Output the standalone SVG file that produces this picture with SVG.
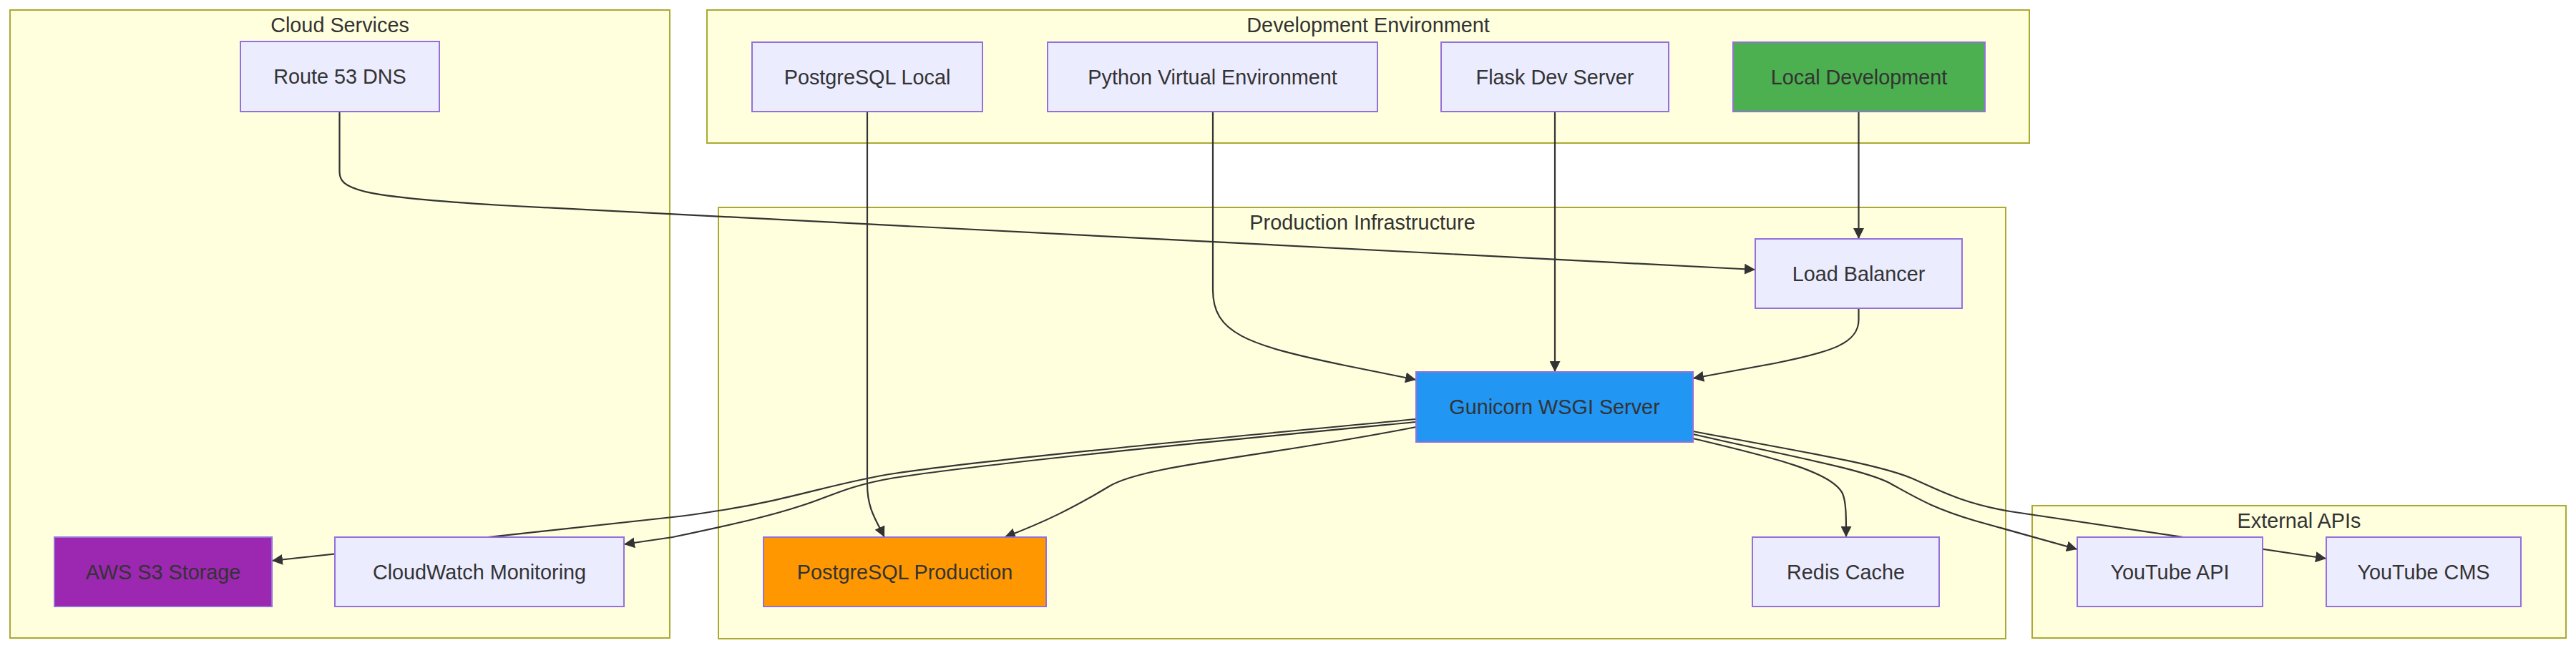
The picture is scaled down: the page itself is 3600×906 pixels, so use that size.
<svg xmlns="http://www.w3.org/2000/svg" width="3600" height="906" viewBox="0 0 3600 906">
<style>
.cluster{fill:#ffffde;stroke:#aaaa33;stroke-width:2}
.ctitle{font-family:"Liberation Sans",sans-serif;font-size:28.8px;fill:#333;text-anchor:middle}
.node rect{fill:#ECECFF;stroke:#9370DB;stroke-width:2}
.node text{font-family:"Liberation Sans",sans-serif;font-size:28.8px;fill:#333;text-anchor:middle}
.edge{fill:none;stroke:#333;stroke-width:2.2;marker-end:url(#arrow)}
</style>
<defs>
<marker id="arrow" viewBox="0 0 15 15" refX="15" refY="7.5" markerWidth="15" markerHeight="15" markerUnits="userSpaceOnUse" orient="auto">
<path d="M0,0 L15,7.5 L0,15 z" fill="#333"/>
</marker>
</defs>
<rect width="3600" height="906" fill="#ffffff"/>
<g id="clusters">
<g id="cloud-services"><rect class="cluster" x="14" y="14" width="922" height="878"/><text class="ctitle" x="475" y="45">Cloud Services</text></g>
<g id="development-environment"><rect class="cluster" x="988" y="14" width="1848" height="186"/><text class="ctitle" x="1912" y="45">Development Environment</text></g>
<g id="production-infrastructure"><rect class="cluster" x="1004" y="290" width="1799" height="603"/><text class="ctitle" x="1904" y="321">Production Infrastructure</text></g>
<g id="external-apis"><rect class="cluster" x="2840" y="707" width="746" height="185"/><text class="ctitle" x="3213" y="738">External APIs</text></g>
</g>
<g id="connectors">
<path class="edge" d="M474.5,156 L474.5,240 C474.5,265 500,275 700,287 L2453,377"/>
<path class="edge" d="M1212,156 L1212,677 C1212,712 1225,728 1236,751"/>
<path class="edge" d="M1695,156 L1695,405 C1695,465 1740,482 1880,511 L1979,531"/>
<path class="edge" d="M2173,156 L2173,520"/>
<path class="edge" d="M2597.5,156 L2597.5,334"/>
<path class="edge" d="M2597.5,431 L2597.5,447 C2597.5,480 2560,492 2480,508 L2366,529"/>
<path class="edge" d="M1979,597 C1760,640 1600,650 1550,680 S1460,730 1404,751"/>
<path class="edge" d="M1979,586 C1750,608 1400,640 1250,662 C1170,674 1100,700 1004,714 C980,718 960,721 940,723 L380,784"/>
<path class="edge" d="M1979,590 C1750,612 1400,645 1250,668 C1180,680 1160,695 1120,707 C1080,720 1040,730 940,751 L872,761"/>
<path class="edge" d="M2366,613 C2480,640 2560,660 2575,690 C2580,702 2580,720 2580,751"/>
<path class="edge" d="M2366,607 C2500,638 2600,655 2640,675 C2680,697 2700,710 2760,728 L2903,768"/>
<path class="edge" d="M2366,603 C2520,632 2620,648 2670,668 C2710,685 2740,703 2809,715 L3251,781"/>
</g>
<g id="route53" class="node"><rect x="336" y="58" width="278" height="98"/><text x="475" y="117">Route 53 DNS</text></g>
<g id="s3" class="node"><rect x="76" y="751" width="304" height="97" style="fill:#9C27B0"/><text x="228" y="810">AWS S3 Storage</text></g>
<g id="cloudwatch" class="node"><rect x="468" y="751" width="404" height="97"/><text x="670" y="810">CloudWatch Monitoring</text></g>
<g id="pg-local" class="node"><rect x="1051" y="59" width="322" height="97"/><text x="1212" y="118">PostgreSQL Local</text></g>
<g id="venv" class="node"><rect x="1464" y="59" width="461" height="97"/><text x="1694.5" y="118">Python Virtual Environment</text></g>
<g id="flask" class="node"><rect x="2014" y="59" width="318" height="97"/><text x="2173" y="118">Flask Dev Server</text></g>
<g id="local-dev" class="node"><rect x="2422" y="59" width="352" height="97" style="fill:#4CAF50"/><text x="2598" y="118">Local Development</text></g>
<g id="load-balancer" class="node"><rect x="2453" y="334" width="289" height="97"/><text x="2597.5" y="393">Load Balancer</text></g>
<g id="gunicorn" class="node"><rect x="1979" y="520" width="387" height="98" style="fill:#2196F3"/><text x="2172.5" y="579">Gunicorn WSGI Server</text></g>
<g id="pg-prod" class="node"><rect x="1067" y="751" width="395" height="97" style="fill:#FF9800"/><text x="1264.5" y="810">PostgreSQL Production</text></g>
<g id="redis" class="node"><rect x="2449" y="751" width="261" height="97"/><text x="2579.5" y="810">Redis Cache</text></g>
<g id="youtube-api" class="node"><rect x="2903" y="751" width="259" height="97"/><text x="3032.5" y="810">YouTube API</text></g>
<g id="youtube-cms" class="node"><rect x="3251" y="751" width="272" height="97"/><text x="3387" y="810">YouTube CMS</text></g>
</svg>
